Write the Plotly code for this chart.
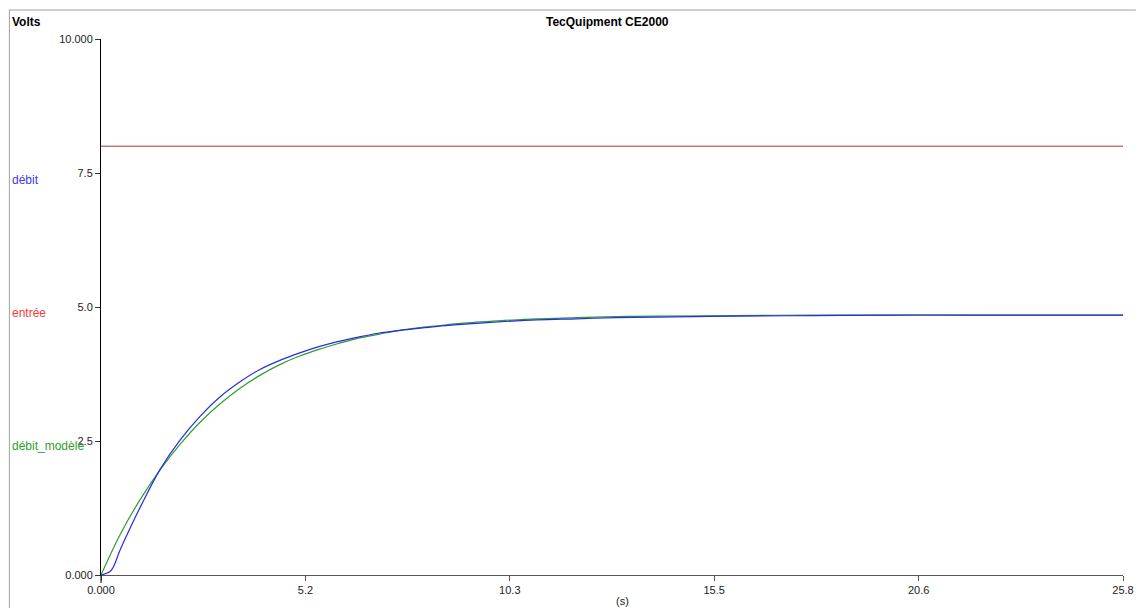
import plotly.graph_objects as go

# Time axis (s)
t_meas = [0, 0.25, 0.5, 1.0, 1.5, 2.0, 2.5, 3.0, 3.5, 4.0, 4.5, 5.0, 5.5, 6.0, 6.5,
          7.0, 7.5, 8.0, 8.5, 9.0, 10.0, 11.0, 12.0, 13.0, 14.0, 15.0, 16.0, 18.0,
          20.0, 22.0, 25.8]
debit = [0, 0.08, 0.5, 1.28, 1.98, 2.52, 2.96, 3.32, 3.6, 3.83, 4.0, 4.14, 4.26, 4.36,
         4.44, 4.51, 4.56, 4.6, 4.64, 4.67, 4.72, 4.76, 4.78, 4.8, 4.81, 4.82, 4.83,
         4.84, 4.85, 4.85, 4.85]

t_model = [0, 0.5, 1.0, 1.5, 2.0, 2.5, 3.0, 3.5, 4.0, 4.5, 5.0, 5.5, 6.0, 6.5, 7.0,
           7.5, 8.0, 8.5, 9.0, 10.0, 11.0, 12.0, 13.0, 14.0, 16.0, 18.0, 20.0, 25.8]
debit_modele = [0, 0.78, 1.42, 1.97, 2.44, 2.85, 3.19, 3.48, 3.72, 3.92, 4.08, 4.21, 4.32,
                4.42, 4.49, 4.56, 4.61, 4.65, 4.69, 4.74, 4.78, 4.8, 4.82, 4.83, 4.84,
                4.85, 4.85, 4.85]

t_entree = [0, 25.8]
entree = [8.0, 8.0]

x_ticks = [0, 5.16, 10.32, 15.48, 20.64, 25.8]
x_tick_labels = ["0.000", "5.2", "10.3", "15.5", "20.6", "25.8"]
y_ticks = [0, 2.5, 5.0, 7.5, 10.0]
y_tick_labels = ["0.000", "2.5", "5.0", "7.5", "10.000"]

FONT = "Liberation Sans, Arial, sans-serif"

fig = go.Figure()
fig.add_trace(go.Scatter(x=t_entree, y=entree, mode="lines",
                         line=dict(color="#a83232", width=1), name="entrée"))
fig.add_trace(go.Scatter(x=t_model, y=debit_modele, mode="lines", line_shape="spline",
                         line=dict(color="#2e9e2e", width=1.2), name="débit_modèle"))
fig.add_trace(go.Scatter(x=t_meas, y=debit, mode="lines", line_shape="spline",
                         line=dict(color="#2a2ae8", width=1.2), name="débit"))

OFF = 8  # page body margin
W, H = 1146 - OFF, 608 - OFF
# plot area in page pixels: x 101..1133, y 39..575
L = 101 - OFF
R = W - (1133 - OFF)
T = 39 - OFF
B = H - (575 - OFF)
pw, ph = W - L - R, H - T - B

def px(xp):
    return (xp - OFF - L) / pw

def py(yp):
    return (H - B - (yp - OFF)) / ph

fig.update_layout(
    width=W, height=H,
    margin=dict(l=L, r=R, t=T, b=B),
    plot_bgcolor="white", paper_bgcolor="white",
    showlegend=False,
    font=dict(family=FONT, size=11, color="#222"),
    xaxis=dict(range=[0, 25.8], tickvals=x_ticks, ticktext=x_tick_labels,
               showgrid=False, zeroline=False, showline=True, linecolor="#555",
               linewidth=1, ticks="outside", ticklen=5, tickcolor="#555",
               tickfont=dict(family=FONT, size=11, color="#222")),
    yaxis=dict(range=[0, 10], tickvals=y_ticks, ticktext=y_tick_labels,
               showgrid=False, zeroline=False, showline=True, linecolor="#000",
               linewidth=1, ticks="outside", ticklen=5, tickcolor="#333",
               tickfont=dict(family=FONT, size=11, color="#222")),
    shapes=[
        dict(type="line", xref="paper", yref="paper", x0=px(8), x1=px(1146), y0=py(10), y1=py(10),
             line=dict(color="#a0a0a0", width=1)),
        dict(type="line", xref="paper", yref="paper", x0=px(8.5), x1=px(8.5), y0=py(10), y1=py(608),
             line=dict(color="#a0a0a0", width=1)),
        dict(type="line", xref="paper", yref="paper", x0=0, x1=0, y0=py(583), y1=0,
             line=dict(color="#000", width=1)),
    ],
    annotations=[
        dict(text="<b>TecQuipment CE2000</b>", xref="paper", yref="paper",
             x=px(612), y=py(22), showarrow=False, xanchor="center", yanchor="middle",
             font=dict(family=FONT, size=12, color="#000")),
        dict(text="<b>Volts</b>", xref="paper", yref="paper",
             x=px(9), y=py(22), showarrow=False, xanchor="left", yanchor="middle",
             font=dict(family=FONT, size=12, color="#000")),
        dict(text="(s)", xref="paper", yref="paper",
             x=px(628), y=py(601), showarrow=False, xanchor="center", yanchor="middle",
             font=dict(family=FONT, size=11, color="#222")),
        dict(text="débit", xref="paper", yref="paper",
             x=px(9), y=py(180), showarrow=False, xanchor="left", yanchor="middle",
             font=dict(family=FONT, size=12, color="#3b3bf0")),
        dict(text="entrée", xref="paper", yref="paper",
             x=px(9), y=py(313), showarrow=False, xanchor="left", yanchor="middle",
             font=dict(family=FONT, size=12, color="#f03c3c")),
        dict(text="débit_modèle", xref="paper", yref="paper",
             x=px(9), y=py(446), showarrow=False, xanchor="left", yanchor="middle",
             font=dict(family=FONT, size=12, color="#2e9e2e")),
    ],
)

fig.write_html("out.html")
